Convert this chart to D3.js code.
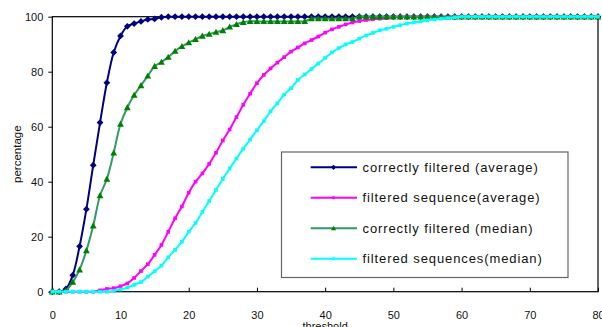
<!DOCTYPE html>
<html>
<head>
<meta charset="utf-8">
<script src="https://cdn.jsdelivr.net/npm/d3@7"></script>
<style>
  body { margin: 0; background: #fff; }
  svg { display: block; font-family: "Liberation Sans", Arial, sans-serif; }
  .tick text { font-size: 11px; fill: #111; }
  .legend text { font-size: 13px; fill: #111; letter-spacing: 0.9px; }
</style>
</head>
<body>
<svg width="602" height="327"></svg>
<script>
// threshold values 0..80
const thresholds = d3.range(0, 81);

const correctAvg = [
  0, 0, 1, 6, 16.5, 30, 46, 61.5, 76, 87,
  93, 96.5, 97.5, 98.3, 99, 99.2, 99.8, 100, 100, 100,
  100, 100, 100, 100, 100, 100, 100, 100, 100, 100,
  100, 100, 100, 100, 100, 100, 100, 100, 100, 100,
  100, 100, 100, 100, 100, 100, 100, 100, 100, 100,
  100, 100, 100, 100, 100, 100, 100, 100, 100, 100,
  100, 100, 100, 100, 100, 100, 100, 100, 100, 100,
  100, 100, 100, 100, 100, 100, 100, 100, 100, 100,
  100
];

const filteredAvg = [
  0, 0, 0, 0, 0, 0, 0, 0.5, 1, 1.3,
  2, 3, 5, 7.5, 10, 13.4, 17, 21.8, 26.7, 31,
  36, 40, 43, 46.5, 50.5, 55, 59, 63.5, 68, 72,
  75.8, 78.8, 81.2, 83.3, 85.3, 87.3, 88.8, 90.3, 91.5, 92.8,
  94.2, 95.4, 96.3, 97.2, 97.9, 98.4, 98.8, 99.1, 99.3, 99.5,
  99.8, 100, 100, 100, 100, 100, 100, 100, 100, 100,
  100, 100, 100, 100, 100, 100, 100, 100, 100, 100,
  100, 100, 100, 100, 100, 100, 100, 100, 100, 100,
  100
];

const correctMed = [
  0, 0, 0.5, 3.5, 8, 15, 24, 35, 41, 50.5,
  61, 67, 71.5, 75, 78.5, 82, 83.5, 85.3, 87.5, 89.2,
  90.6, 91.8, 93, 93.7, 94.4, 95, 96.3, 97.2, 98, 98.3,
  98.3, 98.3, 98.3, 98.3, 98.3, 98.3, 98.3, 98.3, 99.3, 99.3,
  99.3, 99.3, 99.3, 99.3, 99.3, 100, 100, 100, 100, 100,
  100, 100, 100, 100, 100, 100, 100, 100, 100, 100,
  100, 100, 100, 100, 100, 100, 100, 100, 100, 100,
  100, 100, 100, 100, 100, 100, 100, 100, 100, 100,
  100
];

const filteredMed = [
  0, 0, 0, 0, 0, 0, 0, 0, 0, 0.3,
  0.8, 1.5, 2.5, 3.5, 5.5, 7.4, 9.5, 12.5, 15.2, 18.2,
  21.8, 25, 29, 33, 37, 41, 44.8, 48.4, 52, 55.3,
  58.7, 62, 65.6, 68.5, 71.7, 74, 77, 79, 81, 83,
  85, 87, 88.6, 89.9, 90.8, 92, 93.2, 94.1, 95, 95.6,
  96.3, 96.9, 97.5, 97.9, 98.3, 98.7, 99, 99.3, 99.5, 99.8,
  100, 100, 100, 100, 100, 100, 100, 100, 100, 100,
  100, 100, 100, 100, 100, 100, 100, 100, 100, 100,
  100
];

const xTicks = [0, 10, 20, 30, 40, 50, 60, 70, 80];
const yTicks = [0, 20, 40, 60, 80, 100];

const series = [
  { name: "correctly filtered (average)", values: correctAvg, line: "#000080", fill: "#000080", marker: "diamond" },
  { name: "filtered sequence(average)", values: filteredAvg, line: "#ff00ff", fill: "#ff00ff", marker: "square" },
  { name: "correctly filtered (median)", values: correctMed, line: "#339966", fill: "#008000", marker: "triangle" },
  { name: "filtered sequences(median)", values: filteredMed, line: "#00ffff", fill: "#00ffff", marker: "square" }
];

const plotLeft = 52.3, plotRight = 598, plotTop = 16.7, plotBottom = 291.7;

const svg = d3.select("svg");

const x = d3.scaleLinear().domain([0, 80]).range([plotLeft, plotRight]);
const y = d3.scaleLinear().domain([0, 100]).range([plotBottom, plotTop]);

// y axis, ticks pointing out
const yAxisG = svg.append("g")
  .attr("transform", "translate(" + plotLeft + ",0)")
  .call(d3.axisLeft(y).tickValues(yTicks).tickSize(4).tickPadding(5));
yAxisG.select(".domain").remove();
yAxisG.selectAll("line").attr("stroke", "#000");

// x axis, ticks pointing in
const xAxisG = svg.append("g")
  .attr("transform", "translate(0," + plotBottom + ")")
  .call(d3.axisBottom(x).tickValues(xTicks).tickSize(-4).tickPadding(19.5));
xAxisG.select(".domain").remove();
xAxisG.selectAll("line").attr("stroke", "#000");

// plot frame
svg.append("rect")
  .attr("x", plotLeft).attr("y", plotTop)
  .attr("width", plotRight - plotLeft).attr("height", plotBottom - plotTop)
  .attr("fill", "none").attr("stroke", "#000").attr("stroke-width", 1.2);

function markerPath(type, s) {
  if (type == "diamond") return "M0," + (-s) + "L" + s + ",0L0," + s + "L" + (-s) + ",0Z";
  if (type == "triangle") return "M0," + (-s) + "L" + s + "," + (s * 0.8) + "L" + (-s) + "," + (s * 0.8) + "Z";
  return "M" + (-s * 0.7) + "," + (-s * 0.7) + "h" + (s * 1.4) + "v" + (s * 1.4) + "h" + (-s * 1.4) + "Z";
}

const line = d3.line()
  .x((d, i) => x(thresholds[i]))
  .y(d => y(d))
  .curve(d3.curveCatmullRom.alpha(0.5));

series.forEach(s => {
  svg.append("path")
    .attr("d", line(s.values))
    .attr("fill", "none")
    .attr("stroke", s.line)
    .attr("stroke-width", 2);

  svg.append("g").selectAll("path")
    .data(s.values)
    .enter()
    .append("path")
    .attr("transform", (d, i) => "translate(" + x(thresholds[i]) + "," + y(d) + ")")
    .attr("d", markerPath(s.marker, s.marker == "square" ? 2.6 : 3.4))
    .attr("fill", s.fill);
});

// axis titles
svg.append("text")
  .attr("transform", "translate(21," + ((plotTop + plotBottom) / 2) + ")rotate(-90)")
  .attr("text-anchor", "middle")
  .style("font-size", "11.5px")
  .attr("fill", "#111")
  .text("percentage");

svg.append("text")
  .attr("x", (plotLeft + plotRight) / 2)
  .attr("y", 329.5)
  .attr("text-anchor", "middle")
  .style("font-size", "11px")
  .attr("fill", "#111")
  .text("threshold");

// legend
const legend = svg.append("g").attr("class", "legend");
legend.append("rect")
  .attr("x", 281.5).attr("y", 152)
  .attr("width", 286.5).attr("height", 125.5)
  .attr("fill", "#fff")
  .attr("stroke", "#666")
  .attr("stroke-width", 1.2);

const rowY = d3.scalePoint().domain(series.map(s => s.name)).range([167.3, 258.7]);

const rows = legend.selectAll(".row")
  .data(series)
  .enter()
  .append("g")
  .attr("transform", d => "translate(0," + rowY(d.name) + ")");

rows.append("line")
  .attr("x1", 310.7).attr("x2", 357)
  .attr("stroke", d => d.line)
  .attr("stroke-width", 2);

rows.append("path")
  .attr("transform", "translate(333.5,0)")
  .attr("d", d => markerPath(d.marker, d.marker == "square" ? 2 : 2.6))
  .attr("fill", d => d.fill);

rows.append("text")
  .attr("x", 362.5)
  .attr("y", 4.6)
  .text(d => d.name);
</script>
</body>
</html>
